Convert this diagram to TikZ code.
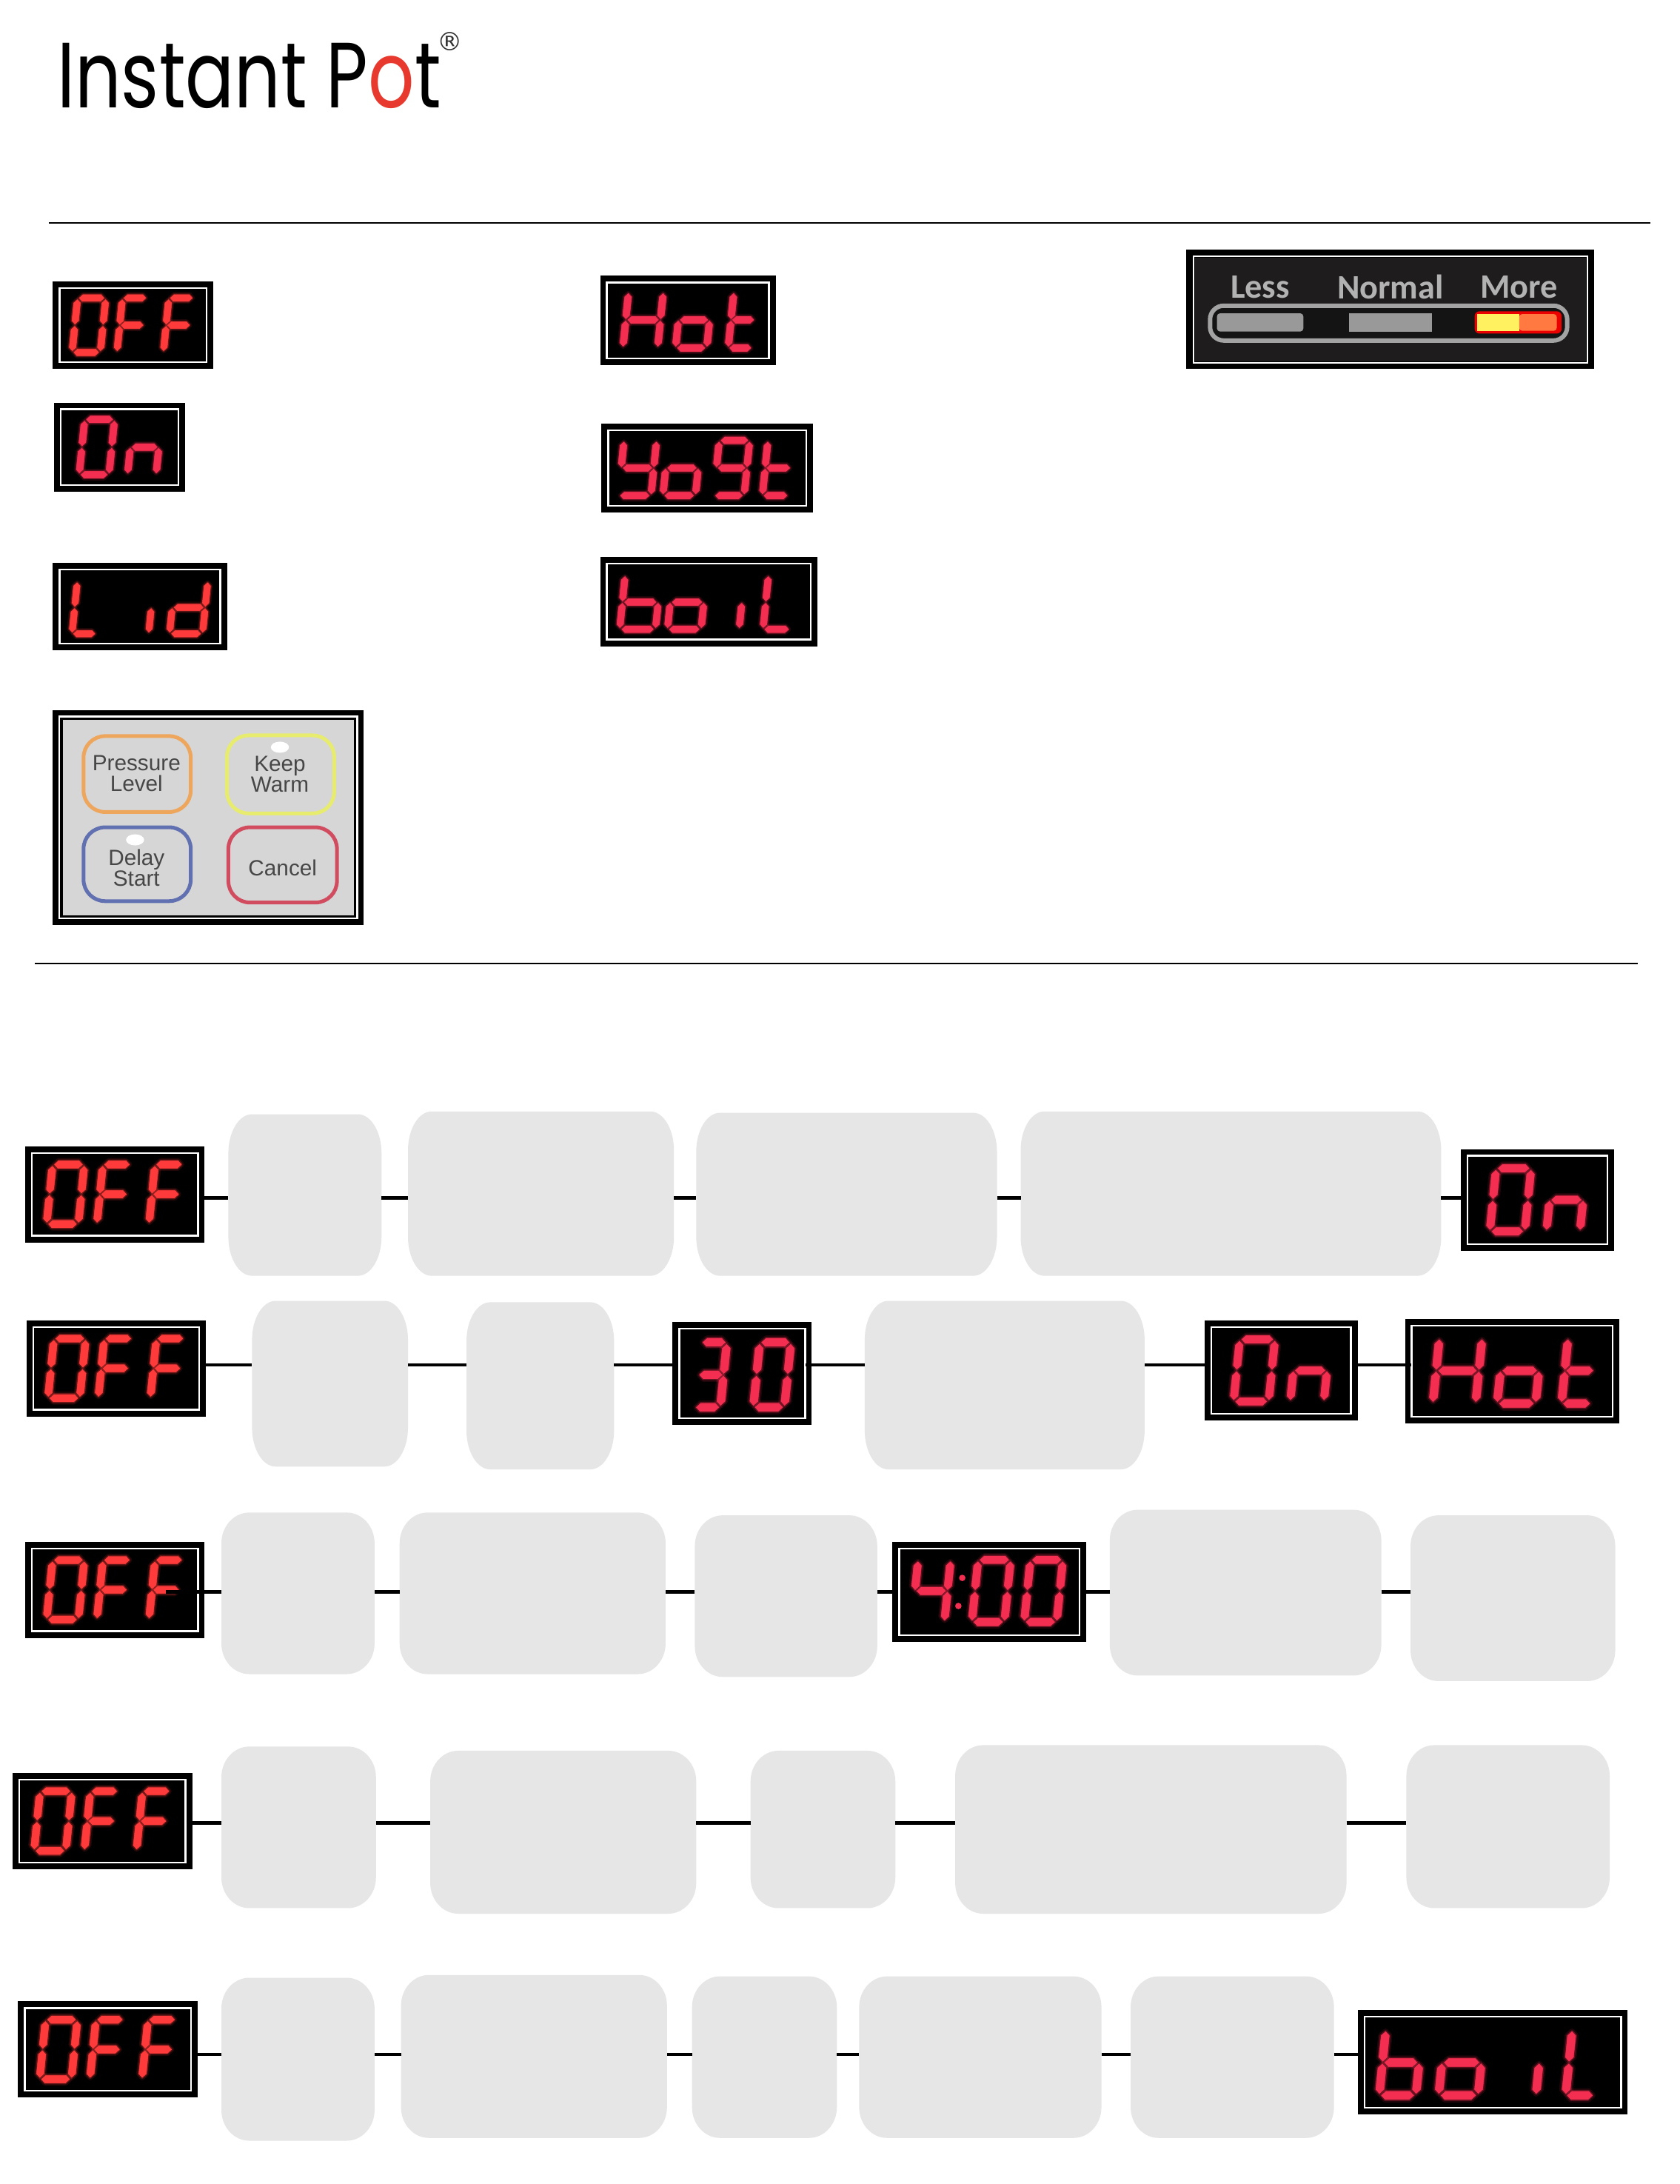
\documentclass[tikz,border=0pt]{standalone}
\usepackage{fontspec}
\setmainfont{Liberation Sans}
\newfontfamily\logofont{Poppins}
\newfontfamily\panelfont{Carlito}
\newfontfamily\regfont{DejaVu Sans}
\definecolor{ledA}{HTML}{FF3A3A}
\definecolor{ledB}{HTML}{F42E50}
\definecolor{gbox}{HTML}{E6E6E6}
\definecolor{logored}{HTML}{E8392E}
\definecolor{panelbg}{HTML}{1E1C1C}
\def\uu{0.05cm}
\def\ledcol{ledA}
\tikzset{
  ledframe/.style={fill=black,inner sep=0pt,outer sep=0pt,text opacity=0,font=\fontsize{18}{18}\selectfont},
  ledline/.style={draw=white,line width=1.7pt},
  ledcore/.style={fill=\ledcol,draw=\ledcol,line width=.3pt},
  ledglow/.style={fill=\ledcol,draw=\ledcol,line width=\lth*.7*\uu,line join=round,opacity=.3},
  ledhalo/.style={fill=\ledcol,draw=\ledcol,line width=\lth*1.5*\uu,line join=round,opacity=.12},
  gnode/.style={inner sep=0pt,outer sep=0pt},
  graybox/.style={fill=gbox},
  conn/.style={draw=black,line width=3.6pt},
  rule/.style={draw=black,line width=1.5pt},
  btn/.style={line width=3.8pt,rounded corners=22pt,fill=none},
  btntext/.style={align=center,text=black!72,font=\fontsize{22.5}{21.5}\selectfont},
  paneltext/.style={text=black!30!white,font=\panelfont\bfseries\fontsize{35}{35}\selectfont},
}
% seven-segment bars: tapered polygons
\def\ledpoly#1{\path[ledhalo] #1;\path[ledglow] #1;\path[ledcore] #1;}
\def\ledhb#1#2#3{%
  \pgfmathsetmacro\lxa{#1*\gw}\pgfmathsetmacro\lxb{#2*\gw}\pgfmathsetmacro\lyy{#3*\gh}%
  \ledpoly{(\lxa,\lyy) -- ({\lxa+\lth},{\lyy-\lth}) -- ({\lxb-\lth},{\lyy-\lth}) -- (\lxb,\lyy) -- ({\lxb-\lth},{\lyy+\lth}) -- ({\lxa+\lth},{\lyy+\lth}) -- cycle}}
\def\ledvb#1#2#3{%
  \pgfmathsetmacro\lxx{#1*\gw}\pgfmathsetmacro\lya{#2*\gh}\pgfmathsetmacro\lyb{#3*\gh}%
  \ledpoly{(\lxx,\lya) -- ({\lxx+\lth},{\lya+\lth}) -- ({\lxx+\lth},{\lyb-\lth}) -- (\lxx,\lyb) -- ({\lxx-\lth},{\lyb-\lth}) -- ({\lxx-\lth},{\lya+\lth}) -- cycle}}
\def\ledsegA{\ledhb{.06}{.94}{0}}
\def\ledsegB{\ledvb{1}{.03}{.48}}
\def\ledsegC{\ledvb{1}{.52}{.97}}
\def\ledsegD{\ledhb{.06}{.94}{1}}
\def\ledsegE{\ledvb{0}{.52}{.97}}
\def\ledsegF{\ledvb{0}{.03}{.48}}
\def\ledsegG{\ledhb{.06}{.94}{.5}}
\newcommand\glyph[5]{%
  \pgfmathsetmacro\gh{#4*\fH}%
  \pgfmathsetmacro\gw{#3*\fW-0.1*\gh}%
  \pgfmathsetmacro\gs{0.1*\gh}%
  \pgfmathsetmacro\gx{\fX+#1*\fW+\gs}%
  \pgfmathsetmacro\gy{\fY+#2*\fH}%
  \pgfmathsetmacro\lth{0.062*\gh}%
  \begin{scope}[shift={(\gx,\gy)},y={(-.1*\uu,-\uu)}]
    \foreach \s in {#5}{\csname ledseg\s\endcsname}
  \end{scope}}
\newcommand\leddisp[7]{%
  \pgfmathsetmacro\fX{#2}\pgfmathsetmacro\fY{#3}%
  \pgfmathsetmacro\fW{#4-#2}\pgfmathsetmacro\fH{#5-#3}%
  \node[ledframe,minimum width=\fW*\uu,minimum height=\fH*\uu] (#1) at ({(#2+#4)/2},{(#3+#5)/2}) {#6};
  \draw[ledline] ({#2+4.8},{#3+4.8}) rectangle ({#4-4.8},{#5-4.8});
  #7}
\newcommand\gboxn[7]{%
  \node[gnode,minimum width=(#4-#2)*\uu,minimum height=(#5-#3)*\uu] (#1) at ({(#2+#4)/2},{(#3+#5)/2}) {};
  \fill[graybox] ({#2+#6},#3) -- ({#4-#6},#3)
    .. controls ({#4-.45*#6},#3) and (#4,{#3+.45*#7}) .. (#4,{#3+#7}) -- (#4,{#5-#7})
    .. controls (#4,{#5-.45*#7}) and ({#4-.45*#6},#5) .. ({#4-#6},#5) -- ({#2+#6},#5)
    .. controls ({#2+.45*#6},#5) and (#2,{#5-.45*#7}) .. (#2,{#5-#7}) -- (#2,{#3+#7})
    .. controls (#2,{#3+.45*#7}) and ({#2+.45*#6},#3) .. ({#2+#6},#3) -- cycle;}
\def\gOFF{\def\ledcol{ledA}\glyph{.12}{.19}{.21}{.62}{A,B,C,D,E,F}\glyph{.40}{.19}{.19}{.62}{A,F,G,E}\glyph{.69}{.19}{.19}{.62}{A,F,G,E}}
\def\gOn{\def\ledcol{ledB}\glyph{.19}{.19}{.27}{.62}{A,B,C,D,E,F}\glyph{.56}{.19}{.26}{.62}{G,C,E}}
\def\gHot{\def\ledcol{ledB}\glyph{.13}{.18}{.23}{.63}{B,C,E,F,G}\glyph{.43}{.18}{.21}{.63}{G,C,D,E}\glyph{.73}{.18}{.17}{.63}{F,E,D,G}}
\begin{document}
\begin{tikzpicture}[x=\uu,y=-\uu]
\useasboundingbox (0,0) rectangle (1206,1568.1);
\fill[white] (0,0) rectangle (1206,1568.1);
% logo
\node[anchor=south west,inner sep=0pt] (logo) at (41,78) {\resizebox{392pt}{66pt}{\logofont Instant P\textcolor{logored}{o}t}};
\node[inner sep=0pt,font=\regfont\fontsize{26}{26}\selectfont,text=black!80] (regmark) at (323,30) {®};
% rules
\coordinate (ruleAa) at (35,160); \coordinate (ruleAb) at (1185,160);
\coordinate (ruleBa) at (25,692); \coordinate (ruleBb) at (1176,692);
\draw[rule] (ruleAa) -- (ruleAb);
\draw[rule] (ruleBa) -- (ruleBb);
% legend displays
\leddisp{legOff}{38}{202}{153}{265}{OFF}{\gOFF}
\leddisp{legOn}{39}{289}{133}{353}{On}{\gOn}
\leddisp{legLid}{38}{404}{163}{467}{Lid}{\def\ledcol{ledA}\glyph{.11}{.21}{.17}{.6}{F,E,D}\glyph{.55}{.21}{.03}{.6}{E}\glyph{.67}{.21}{.22}{.6}{B,C,D,E,G}}
\leddisp{legHot}{431}{198}{557}{262}{Hot}{\gHot}
\leddisp{legYogt}{432}{304}{584}{368}{YoGt}{\def\ledcol{ledB}\glyph{.08}{.19}{.18}{.62}{F,B,G,C,D}\glyph{.29}{.19}{.18}{.62}{G,C,D,E}\glyph{.53}{.19}{.17}{.62}{A,B,C,D,F,G}\glyph{.76}{.19}{.15}{.62}{F,E,D,G}}
\leddisp{legBoil}{431}{400}{587}{464}{boiL}{\def\ledcol{ledB}\glyph{.09}{.2}{.19}{.61}{F,E,D,C,G}\glyph{.31}{.2}{.18}{.61}{G,C,D,E}\glyph{.64}{.2}{.03}{.61}{E}\glyph{.75}{.2}{.15}{.61}{F,E,D}}
% button panel
\node[ledframe,minimum width=223*\uu,minimum height=154*\uu] (btnPanel) at (149.5,587) {};
\draw[ledline] (42.5,514.5) rectangle (256.5,659.5);
\fill[black!16] (45,517) rectangle (254,657);
\node[btntext] (btnP) at (98,555.5) {Pressure\\Level};
\node[btntext] (btnK) at (201,556) {Keep\\Warm};
\node[btntext] (btnD) at (98,623) {Delay\\Start};
\node[btntext] (btnC) at (203,623) {Cancel};
\draw[btn,draw={rgb,255:red,238;green,166;blue,92}] (60,528.5) rectangle (137,583);
\draw[btn,draw={rgb,255:red,232;green,236;blue,110}] (163,528) rectangle (240,584);
\draw[btn,draw={rgb,255:red,96;green,112;blue,176}] (60,594) rectangle (137,647);
\draw[btn,draw={rgb,255:red,210;green,76;blue,96}] (164,594) rectangle (242,648);
\fill[white] (201,536.5) ellipse (6.5 and 4);
\fill[white] (97,603) ellipse (6.5 and 4);
% level panel
\node[ledframe,minimum width=293*\uu,minimum height=86*\uu] (lvlPanel) at (998.5,222) {};
\draw[ledline] (857,184) rectangle (1140,260.5);
\fill[panelbg] (858,185) rectangle (1139,259.5);
\node[paneltext] (lvlLess) at (905,206) {Less};
\node[paneltext] (lvlNormal) at (998.5,206) {Normal};
\node[paneltext] (lvlMore) at (1091,206) {More};
\draw[draw=black!36,line width=4.5pt,rounded corners=14pt,fill=black!92] (869,219.5) rectangle (1125.5,244.5);
\fill[black!40,rounded corners=3pt] (874,225) rectangle (936,238);
\fill[black!40] (968.7,225) rectangle (1028.4,238);
\fill[red!92!black,rounded corners=5pt] (1059,223.5) rectangle (1121.5,239.5);
\fill[yellow!60!white!95!orange] (1061,225.5) rectangle (1091,237.5);
\fill[orange!60!red!75!white,rounded corners=3pt] (1091,225.5) rectangle (1118,237.5);
% row 1
\coordinate (rowA) at (0,860);
\leddisp{aOff}{18}{823}{147}{892}{OFF}{\gOFF}
\gboxn{aB}{164}{800}{274}{916}{17}{28}
\gboxn{aC}{293}{798}{484}{916}{17}{28}
\gboxn{aD}{500}{799}{716}{916}{17}{28}
\gboxn{aE}{733}{798}{1035}{916}{17}{28}
\leddisp{aOn}{1049}{825}{1159}{898}{On}{\gOn}
\draw[conn,shorten <=-6pt] (aOff.east |- rowA) -- (aB.west |- rowA);
\draw[conn] (aB.east |- rowA) -- (aC.west |- rowA);
\draw[conn] (aC.east |- rowA) -- (aD.west |- rowA);
\draw[conn] (aD.east |- rowA) -- (aE.west |- rowA);
\draw[conn,shorten >=-6pt] (aE.east |- rowA) -- (aOn.west |- rowA);
% row 2
\coordinate (rowB) at (0,980);
\leddisp{bOff}{19}{948}{148}{1017}{OFF}{\gOFF}
\gboxn{bB}{181}{934}{293}{1053}{17}{28}
\gboxn{bC}{335}{935}{441}{1055}{17}{28}
\leddisp{bThirty}{483}{949}{583}{1023}{30}{\def\ledcol{ledB}\glyph{.16}{.2}{.23}{.63}{A,B,C,D,G}\glyph{.58}{.2}{.27}{.63}{A,B,C,D,E,F}}
\gboxn{bD}{621}{934}{822}{1055}{17}{28}
\leddisp{bOn}{865}{948}{975}{1020}{On}{\gOn}
\leddisp{bHot}{1009}{947}{1163}{1022}{Hot}{\gHot}
\draw[conn,shorten <=-6pt] (bOff.east |- rowB) -- (bB.west |- rowB);
\draw[conn] (bB.east |- rowB) -- (bC.west |- rowB);
\draw[conn,shorten >=-6pt] (bC.east |- rowB) -- (bThirty.west |- rowB);
\draw[conn,shorten <=-6pt] (bThirty.east |- rowB) -- (bD.west |- rowB);
\draw[conn,shorten >=-6pt] (bD.east |- rowB) -- (bOn.west |- rowB);
\draw[conn,shorten <=-6pt,shorten >=-6pt] (bOn.east |- rowB) -- (bHot.west |- rowB);
% row 3
\coordinate (rowC) at (0,1143);
\leddisp{cOff}{18}{1107}{147}{1176}{OFF}{\gOFF}
\gboxn{cB}{159}{1086}{269}{1202}{20}{22}
\gboxn{cC}{287}{1086}{478}{1202}{20}{22}
\gboxn{cD}{499}{1088}{630}{1204}{20}{22}
\leddisp{cTime}{641}{1107}{780}{1179}{4:00}{\def\ledcol{ledB}\glyph{.10}{.18}{.2}{.62}{F,G,B,C}\glyph{.41}{.18}{.2}{.62}{A,B,C,D,E,F}\glyph{.68}{.18}{.2}{.62}{A,B,C,D,E,F}\fill[ledB] ({\fX+.36*\fW},{\fY+.36*\fH}) circle (2.3);\fill[ledB] ({\fX+.34*\fW},{\fY+.64*\fH}) circle (2.3);}
\gboxn{cE}{797}{1084}{992}{1203}{20}{22}
\gboxn{cF}{1013}{1088}{1160}{1207}{20}{22}
\draw[conn,shorten <=-40pt] (cOff.east |- rowC) -- (cB.west |- rowC);
\draw[conn] (cB.east |- rowC) -- (cC.west |- rowC);
\draw[conn] (cC.east |- rowC) -- (cD.west |- rowC);
\draw[conn,shorten >=-6pt] (cD.east |- rowC) -- (cTime.west |- rowC);
\draw[conn,shorten <=-6pt] (cTime.east |- rowC) -- (cE.west |- rowC);
\draw[conn] (cE.east |- rowC) -- (cF.west |- rowC);
% row 4
\coordinate (rowD) at (0,1309);
\leddisp{dOff}{9}{1273}{138}{1342}{OFF}{\gOFF}
\gboxn{dB}{159}{1254}{270}{1370}{20}{22}
\gboxn{dC}{309}{1257}{500}{1374}{20}{22}
\gboxn{dD}{539}{1257}{643}{1370}{20}{22}
\gboxn{dE}{686}{1253}{967}{1374}{20}{22}
\gboxn{dF}{1010}{1253}{1156}{1370}{20}{22}
\draw[conn,shorten <=-6pt] (dOff.east |- rowD) -- (dB.west |- rowD);
\draw[conn] (dB.east |- rowD) -- (dC.west |- rowD);
\draw[conn] (dC.east |- rowD) -- (dD.west |- rowD);
\draw[conn] (dD.east |- rowD) -- (dE.west |- rowD);
\draw[conn] (dE.east |- rowD) -- (dF.west |- rowD);
% row 5
\coordinate (rowE) at (0,1475);
\leddisp{eOff}{13}{1437}{142}{1506}{OFF}{\gOFF}
\gboxn{eB}{159}{1420}{269}{1537}{20}{22}
\gboxn{eC}{288}{1418}{479}{1535}{20}{22}
\gboxn{eD}{497}{1419}{601}{1535}{20}{22}
\gboxn{eE}{617}{1419}{791}{1535}{20}{22}
\gboxn{eF}{812}{1419}{958}{1535}{20}{22}
\leddisp{eBoil}{975}{1443}{1169}{1518}{boiL}{\def\ledcol{ledB}\glyph{.08}{.19}{.16}{.63}{F,E,D,C,G}\glyph{.30}{.19}{.17}{.63}{G,C,D,E}\glyph{.66}{.19}{.03}{.63}{E}\glyph{.77}{.19}{.13}{.63}{F,E,D}}
\draw[conn,shorten <=-6pt] (eOff.east |- rowE) -- (eB.west |- rowE);
\draw[conn] (eB.east |- rowE) -- (eC.west |- rowE);
\draw[conn] (eC.east |- rowE) -- (eD.west |- rowE);
\draw[conn] (eD.east |- rowE) -- (eE.west |- rowE);
\draw[conn] (eE.east |- rowE) -- (eF.west |- rowE);
\draw[conn,shorten >=-6pt] (eF.east |- rowE) -- (eBoil.west |- rowE);
\end{tikzpicture}
\end{document}
